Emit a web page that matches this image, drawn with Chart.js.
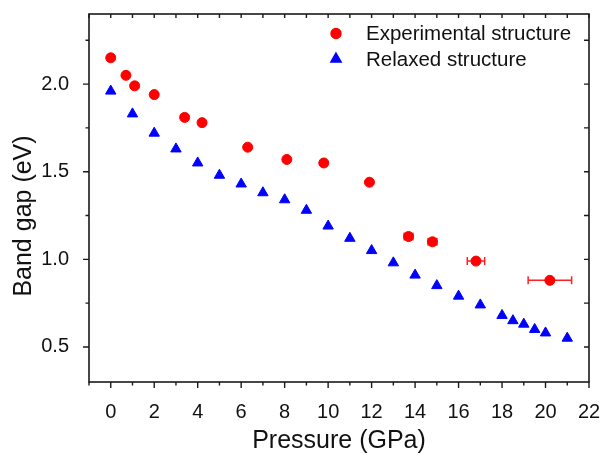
<!DOCTYPE html>
<html>
<head>
<meta charset="utf-8">
<script src="https://cdn.jsdelivr.net/npm/chart.js@4.4.0/dist/chart.umd.min.js"></script>
<style>
  body { margin: 0; background: #fff; }
</style>
</head>
<body>
<canvas id="chart" width="603" height="455"></canvas>
<script>
// experimental points (red circles), with horizontal error in GPa
const expPressure = [0, 0.7, 1.1, 2.0, 3.4, 4.2, 6.3, 8.1, 9.8, 11.9, 13.7, 14.8, 16.8, 20.2];
const expGap = [2.15, 2.05, 1.99, 1.94, 1.81, 1.78, 1.64, 1.57, 1.55, 1.44, 1.13, 1.10, 0.99, 0.88];
const expErr = [0, 0, 0, 0, 0, 0, 0, 0, 0, 0, 0.2, 0.2, 0.4, 1.0];

// relaxed structure (blue triangles)
const relPressure = [0, 1, 2, 3, 4, 5, 6, 7, 8, 9, 10, 11, 12, 13, 14, 15, 16, 17, 18, 18.5, 19, 19.5, 20, 21];
const relGap = [1.96, 1.83, 1.72, 1.63, 1.55, 1.48, 1.43, 1.38, 1.34, 1.28, 1.19, 1.12, 1.05, 0.98, 0.91, 0.85, 0.79, 0.74, 0.68, 0.65, 0.63, 0.60, 0.58, 0.55];

// axes
const xTickValues = [0, 2, 4, 6, 8, 10, 12, 14, 16, 18, 20, 22];
const xTickLabels = ['0', '2', '4', '6', '8', '10', '12', '14', '16', '18', '20', '22'];
const xMinorTicks = [-1, 1, 3, 5, 7, 9, 11, 13, 15, 17, 19, 21];
const yTickValues = [0.5, 1.0, 1.5, 2.0];
const yTickLabels = ['0.5', '1.0', '1.5', '2.0'];
const yMinorTicks = [0.75, 1.25, 1.75, 2.25];

const seriesNames = ['Experimental structure', 'Relaxed structure'];

const FONT = "'Liberation Sans', Arial, sans-serif";
const AXIS = '#1a1a1a';

// frame, tick marks, error bars, legend and y title
const decorations = {
    id: 'decorations',
    beforeDatasetsDraw(chart) {
        const ctx = chart.ctx;
        const x = chart.scales.x, y = chart.scales.y;
        ctx.save();
        ctx.strokeStyle = '#ff2020';
        ctx.lineWidth = 1.5;
        expPressure.forEach((p, i) => {
            if (!expErr[i]) return;
            const x0 = x.getPixelForValue(p - expErr[i]);
            const x1 = x.getPixelForValue(p + expErr[i]);
            const py = y.getPixelForValue(expGap[i]);
            ctx.beginPath();
            ctx.moveTo(x0, py); ctx.lineTo(x1, py);
            ctx.moveTo(x0, py - 4); ctx.lineTo(x0, py + 4);
            ctx.moveTo(x1, py - 4); ctx.lineTo(x1, py + 4);
            ctx.stroke();
        });
        ctx.restore();
    },
    afterDraw(chart) {
        const ctx = chart.ctx;
        const a = chart.chartArea;
        const x = chart.scales.x, y = chart.scales.y;
        ctx.save();
        ctx.strokeStyle = AXIS;
        ctx.lineWidth = 1.6;
        ctx.strokeRect(a.left, a.top, a.right - a.left, a.bottom - a.top);

        ctx.lineWidth = 1.4;
        ctx.beginPath();
        const xTick = (v, len) => {
            const px = x.getPixelForValue(v);
            ctx.moveTo(px, a.bottom); ctx.lineTo(px, a.bottom + len);
            ctx.moveTo(px, a.top); ctx.lineTo(px, a.top + 4);
        };
        const yTick = (v, len) => {
            const py = y.getPixelForValue(v);
            ctx.moveTo(a.left, py); ctx.lineTo(a.left - len, py);
            ctx.moveTo(a.right, py); ctx.lineTo(a.right - 5, py);
        };
        xTickValues.forEach(v => xTick(v, 6));
        xMinorTicks.forEach(v => xTick(v, 3.5));
        yTickValues.forEach(v => yTick(v, 6));
        yMinorTicks.forEach(v => yTick(v, 3.5));
        ctx.stroke();

        // legend
        const lx = 336, ly = [33.5, 59];
        const ds = chart.data.datasets;
        ds.forEach((d, i) => {
            ctx.fillStyle = d.backgroundColor;
            ctx.strokeStyle = d.borderColor;
            Chart.helpers.drawPoint(ctx, {
                pointStyle: d.pointStyle, radius: d.pointRadius, borderWidth: 1, rotation: 0
            }, lx, ly[i]);
            ctx.fillStyle = '#111';
            ctx.font = '20.5px ' + FONT;
            ctx.textAlign = 'left';
            ctx.textBaseline = 'middle';
            ctx.fillText(seriesNames[i], 366, ly[i] + 1);
        });

        // y axis title
        ctx.translate(24, 216);
        ctx.rotate(-Math.PI / 2);
        ctx.font = '25px ' + FONT;
        ctx.textAlign = 'center';
        ctx.textBaseline = 'middle';
        ctx.fillStyle = '#111';
        ctx.fillText('Band gap (eV)', 0, 0);
        ctx.restore();
    }
};

new Chart(document.getElementById('chart'), {
    type: 'scatter',
    data: {
        datasets: [{
            label: seriesNames[0],
            data: expPressure.map((p, i) => ({x: p, y: expGap[i]})),
            pointStyle: 'circle',
            pointRadius: 5,
            backgroundColor: '#ff0000',
            borderColor: '#ff0000',
            borderWidth: 1
        }, {
            label: seriesNames[1],
            data: relPressure.map((p, i) => ({x: p, y: relGap[i]})),
            pointStyle: 'triangle',
            pointRadius: 6,
            backgroundColor: '#0000ff',
            borderColor: '#0000ff',
            borderWidth: 1
        }]
    },
    options: {
        responsive: false,
        animation: false,
        events: [],
        layout: {padding: {top: 14, right: 14, left: 0, bottom: 0}},
        plugins: {legend: {display: false}, tooltip: {enabled: false}},
        scales: {
            x: {
                type: 'linear',
                min: -1,
                max: 22,
                grid: {display: false},
                border: {display: false},
                afterBuildTicks: s => { s.ticks = xTickValues.map(v => ({value: v})); },
                afterFit: s => { s.height = 73; s.paddingLeft = 0; s.paddingRight = 0; },
                ticks: {
                    autoSkip: false,
                    maxRotation: 0,
                    padding: 10,
                    color: '#111',
                    font: {family: FONT, size: 20},
                    callback: v => xTickLabels[xTickValues.indexOf(v)]
                },
                title: {
                    display: true,
                    text: 'Pressure (GPa)',
                    color: '#111',
                    font: {family: FONT, size: 25, lineHeight: 1},
                    padding: {top: 0, bottom: 1}
                }
            },
            y: {
                type: 'linear',
                min: 0.3,
                max: 2.4,
                grid: {display: false},
                border: {display: false},
                afterBuildTicks: s => { s.ticks = yTickValues.map(v => ({value: v})); },
                afterFit: s => { s.width = 89; s.paddingTop = 0; s.paddingBottom = 0; },
                ticks: {
                    autoSkip: false,
                    padding: 12,
                    color: '#111',
                    font: {family: FONT, size: 20},
                    callback: v => yTickLabels[yTickValues.indexOf(v)]
                }
            }
        }
    },
    plugins: [decorations]
});
</script>
</body>
</html>
